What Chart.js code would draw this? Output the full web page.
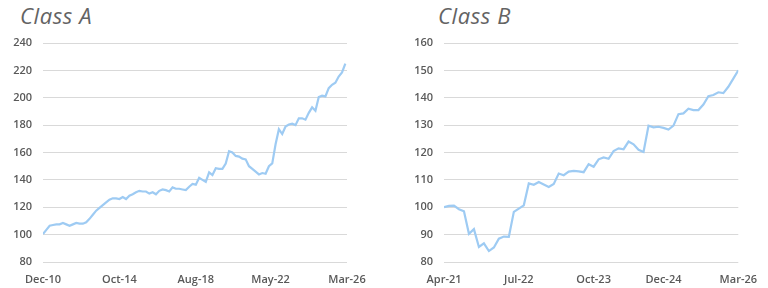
<!DOCTYPE html>
<html>
<head>
<meta charset="utf-8">
<script src="https://cdn.jsdelivr.net/npm/chart.js@4.4.1/dist/chart.umd.min.js"></script>
<style>
    body { margin: 0; background: #fff; }
    .panel { position: absolute; top: 0; width: 384px; height: 288px; }
    .titulo {
        position: absolute; top: 0; font-family: "Open Sans", sans-serif;
        font-style: italic; font-size: 22px; letter-spacing: 0.6px;
        line-height: 30px; color: #636363;
    }
    canvas { position: absolute; left: 0; top: 0; }
</style>
</head>
<body>
<div class="panel" style="left:0">
    <div class="titulo" style="left:20px">Class A</div>
    <canvas id="chartA" width="384" height="288"></canvas>
</div>
<div class="panel" style="left:384px">
    <div class="titulo" style="left:54px">Class B</div>
    <canvas id="chartB" width="384" height="288"></canvas>
</div>
<script>
    // Class A: one value every 2 months starting Dec-10
    const pasoA = 2;
    const valoresA = [
        100.5, 103.5, 106.5, 107, 107.5, 107.5, 108.5, 107.5, 106.5, 107.5,
        108.5, 108, 108, 109, 111.5, 114.5, 117.5, 119.5, 121.5, 123.5,
        125.5, 126.5, 126.5, 126, 127.5, 126, 128.5, 129.5, 131, 132,
        131.5, 131.5, 130, 131, 129.5, 132, 133, 132.5, 131.5, 134.5,
        133.5, 133.5, 133, 132.5, 135, 137, 136.5, 141.5, 140, 138.5,
        145.5, 143.5, 148.5, 148, 148, 152, 161, 160, 157.5, 157,
        155.5, 155, 150, 148, 146, 144, 145, 144.5, 150, 152,
        166, 177, 173.5, 179, 180.5, 181, 180, 185, 185, 184,
        189, 193, 190.5, 200.5, 201.5, 201, 207, 209.5, 211, 215.5,
        218.5, 225
    ];
    const etiquetasA = ['Dec-10', 'Oct-14', 'Aug-18', 'May-22', 'Mar-26'];
    const mesesEtiquetasA = [0, 46, 92, 137, 183];

    // Class B: monthly values starting Apr-21
    const pasoB = 1;
    const valoresB = [
        100, 100.5, 100.6, 99.3, 98.5, 90.3, 92, 85.5, 86.8, 84,
        85.3, 88.5, 89.3, 89.2, 98.3, 99.5, 100.7, 108.7, 108.2, 109.2,
        108.3, 107.4, 108.5, 112.3, 111.7, 113, 113.3, 113.1, 112.8, 115.7,
        114.8, 117.5, 118.2, 117.7, 120.5, 121.5, 121.2, 124, 123, 121,
        120.2, 129.8, 129.2, 129.4, 129, 128.4, 129.8, 134, 134.3, 136,
        135.5, 135.5, 137.5, 140.6, 141, 142, 141.7, 144, 147, 150
    ];
    const etiquetasB = ['Apr-21', 'Jul-22', 'Oct-23', 'Dec-24', 'Mar-26'];
    const mesesEtiquetasB = [0, 15, 30, 44, 59];

    const fuenteEjes = { family: '"Open Sans", sans-serif', size: 11, weight: '600' };

    function crearGrafico(id, valores, paso, meses, etiquetas, yMin, yMax, yPaso, anchoY, padDer) {
        const puntos = valores.map((v, i) => ({ x: i * paso, y: v }));

        const config = {
            type: 'line',
            data: {
                datasets: [{
                    data: puntos,
                    borderColor: '#9ecbf3',
                    borderWidth: 2.2,
                    pointRadius: 0,
                    tension: 0,
                    fill: false
                }]
            },
            options: {
                responsive: false,
                animation: false,
                layout: { padding: { left: 0, right: padDer, top: 43, bottom: 0 } },
                plugins: {
                    legend: { display: false },
                    tooltip: { enabled: false }
                },
                scales: {
                    x: {
                        type: 'linear',
                        min: meses[0],
                        max: meses[meses.length - 1],
                        grid: { display: false, drawTicks: false },
                        border: { display: false },
                        afterBuildTicks: function(eje) {
                            eje.ticks = meses.map(m => ({ value: m }));
                        },
                        afterFit: function(eje) { eje.height = 26; },
                        ticks: {
                            autoSkip: false,
                            maxRotation: 0,
                            padding: 11,
                            color: '#595959',
                            font: fuenteEjes,
                            callback: function(value) {
                                return etiquetas[meses.indexOf(value)];
                            }
                        }
                    },
                    y: {
                        min: yMin,
                        max: yMax,
                        border: { display: false },
                        grid: { color: '#d9d9d9', lineWidth: 1, drawTicks: false },
                        afterFit: function(eje) { eje.width = anchoY; },
                        ticks: {
                            stepSize: yPaso,
                            padding: 11,
                            color: '#595959',
                            font: fuenteEjes
                        }
                    }
                }
            }
        };

        const ctx = document.getElementById(id).getContext('2d');
        return new Chart(ctx, config);
    }

    crearGrafico('chartA', valoresA, pasoA, mesesEtiquetasA, etiquetasA, 80, 240, 20, 43, 37);
    crearGrafico('chartB', valoresB, pasoB, mesesEtiquetasB, etiquetasB, 80, 160, 10, 60, 20);
</script>
</body>
</html>
